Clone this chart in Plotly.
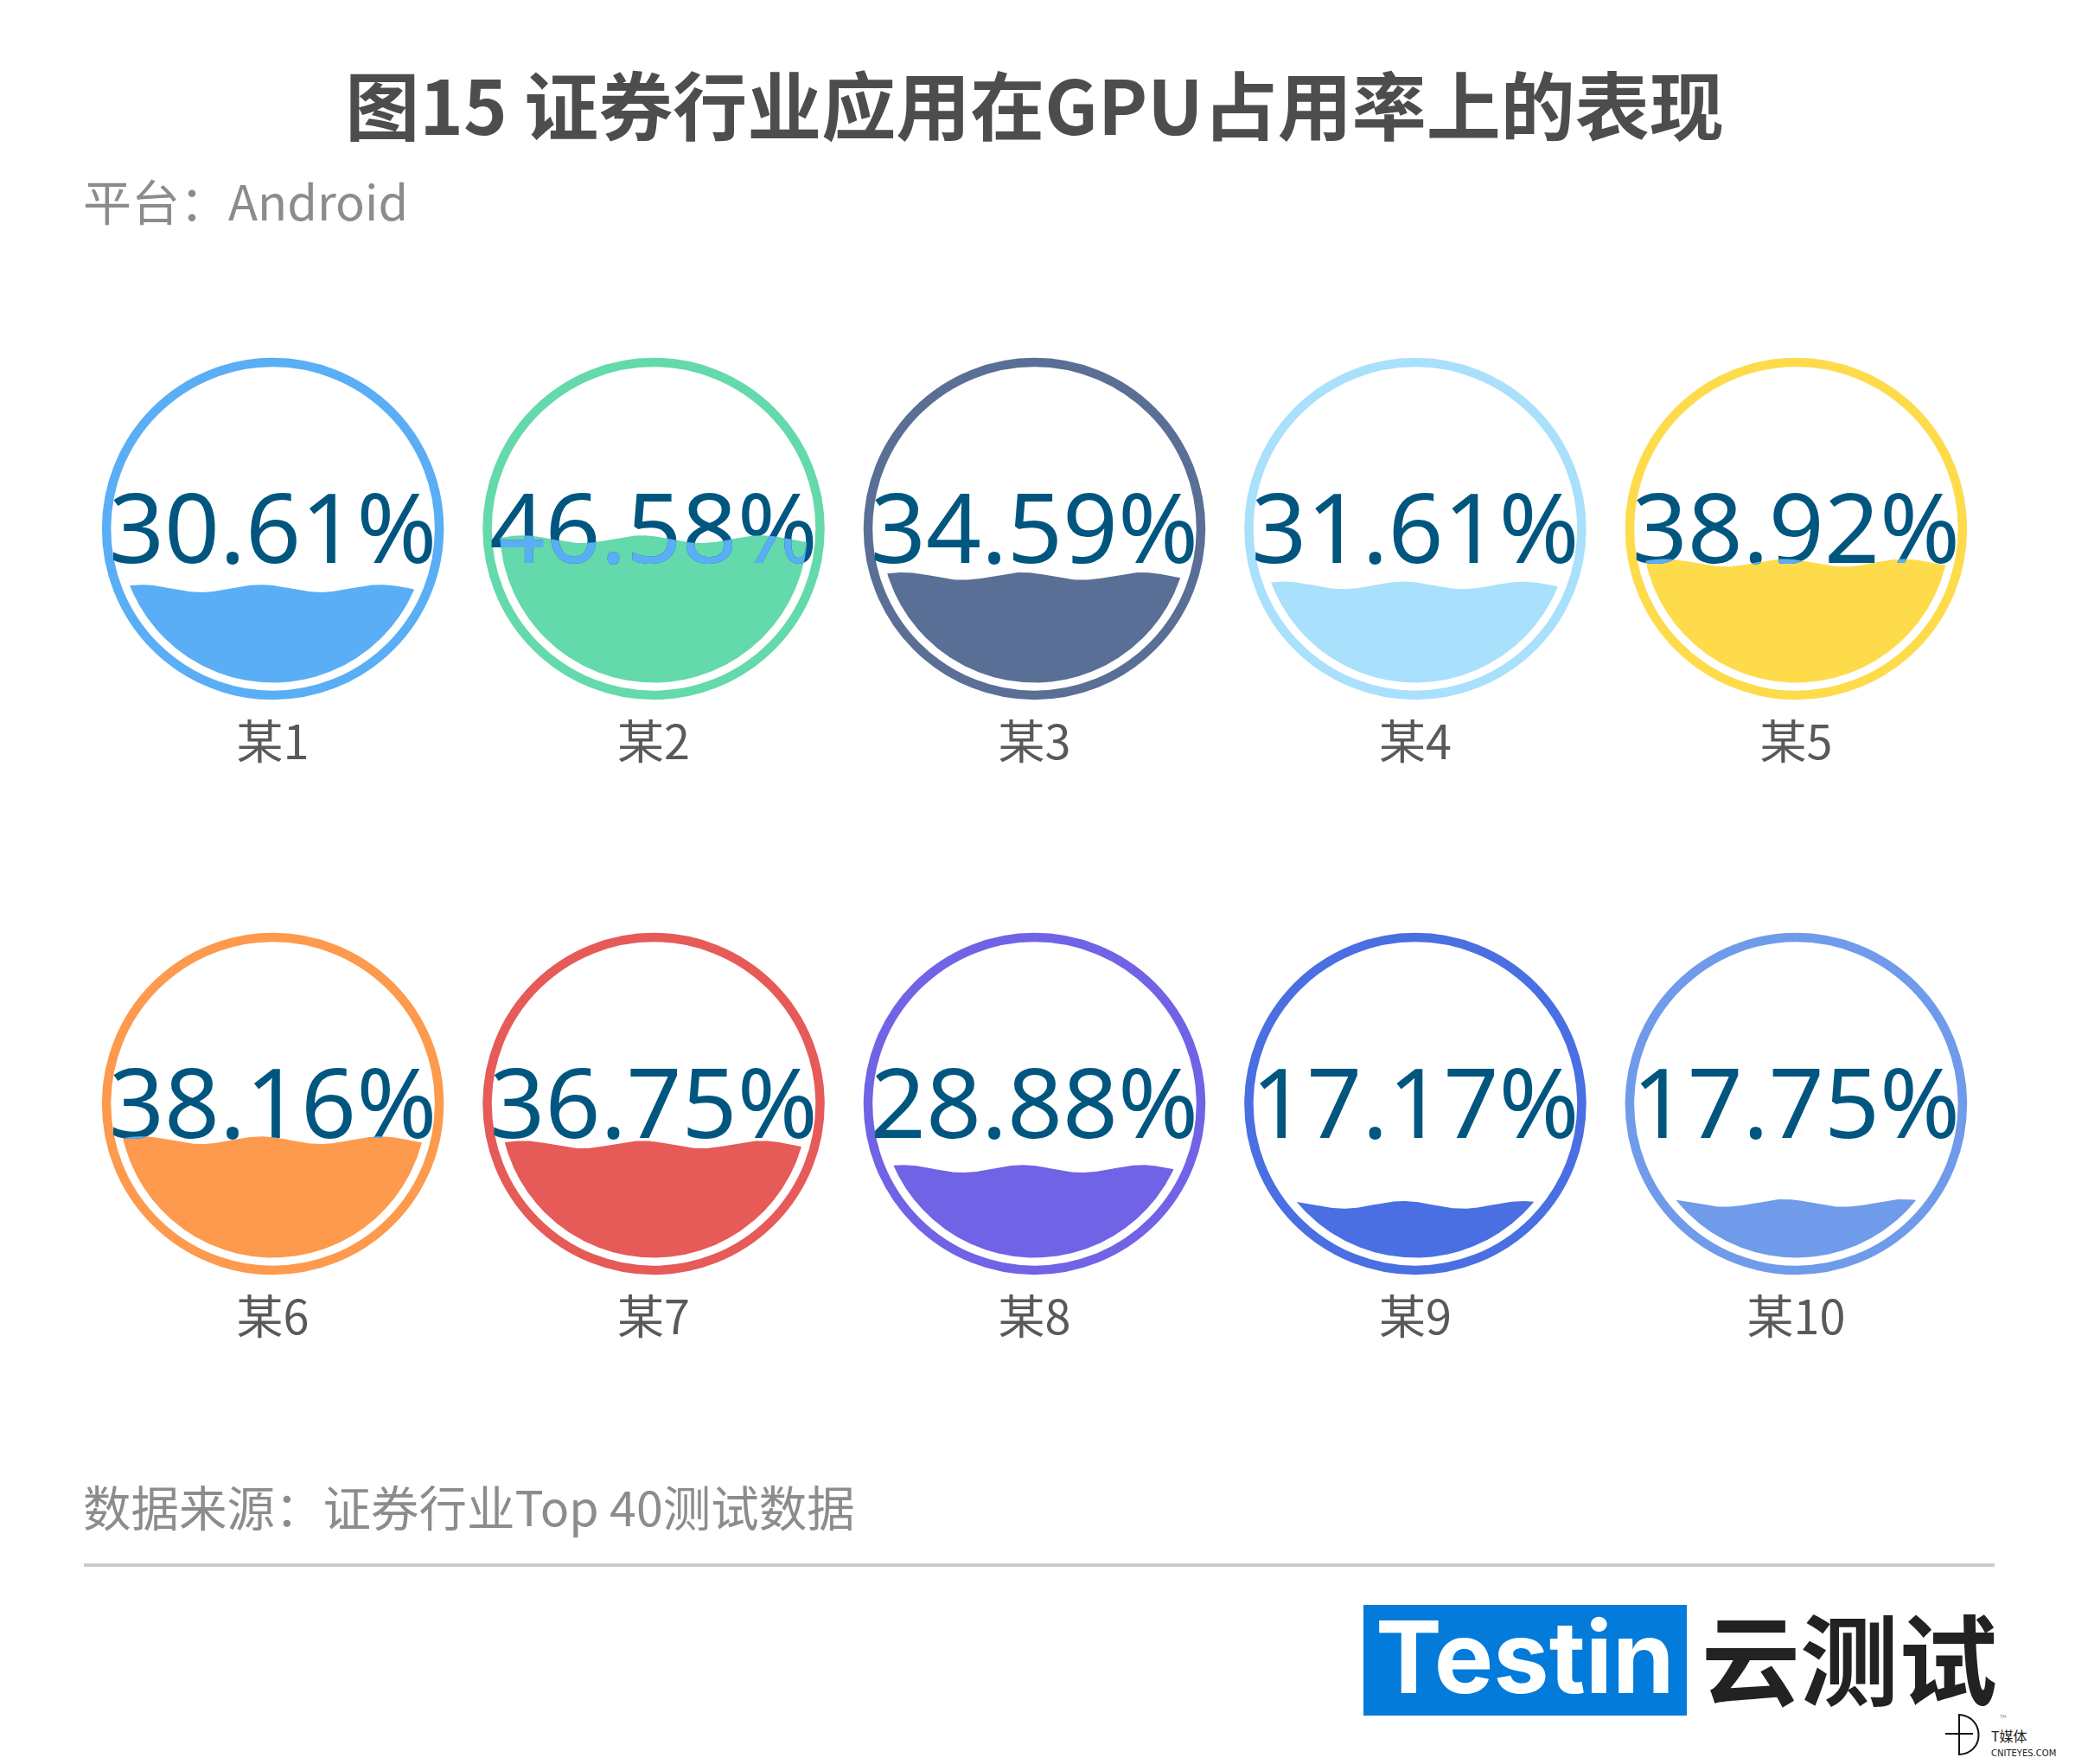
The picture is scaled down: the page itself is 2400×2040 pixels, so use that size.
import json
import numpy as np
import plotly.graph_objects as go

# ---- data ----
names = ["某1", "某2", "某3", "某4", "某5", "某6", "某7", "某8", "某9", "某10"]
values = [30.61, 46.58, 34.59, 31.61, 38.92, 38.16, 36.75, 28.88, 17.17, 17.75]
colors = ["#5AAEF5", "#64D9AB", "#5A6F95", "#A9E0FC", "#FEDB4B",
          "#FE9A4D", "#E65A58", "#7063E6", "#4A6FE3", "#6F9BEA"]
title_text = "图15 证券行业应用在GPU占用率上的表现"
subtitle_text = "平台：Android"
source_text = "数据来源：证券行业Top 40测试数据"

# ---- layout constants (pixels) ----
W, H = 2400, 2040
COL0, COLSTEP = 315.6, 440.45
ROWS = [611.5, 1276.5]
R_RING, RING_W, R_FILL = 192.5, 10.5, 178
WAVE_AMP, WAVE_PERIOD, WAVE_SHIFT = 4.4, 138.0, -14.0
TEXT_DARK, TEXT_LIGHT = "#00567F", "#5AAEF5"
VALUE_FONT = "Noto Sans"
CJK = "Noto Sans CJK SC"
VALUE_SIZE = 112
VALUE_DY, NAME_DY = 11.5, 252.5

centers = [(COL0 + COLSTEP * (i % 5), ROWS[i // 5]) for i in range(len(values))]


def water_polygon(cx, cy, v):
    level = cy + R_FILL - 2 * R_FILL * v / 100
    dx = np.linspace(-R_FILL, R_FILL, 721)
    surf = level - WAVE_AMP * np.cos(2 * np.pi * (dx - WAVE_SHIFT) / WAVE_PERIOD)
    arc = cy + np.sqrt(np.maximum(R_FILL ** 2 - dx ** 2, 0))
    top = cy - np.sqrt(np.maximum(R_FILL ** 2 - dx ** 2, 0))
    keep = (surf < arc) & (surf > top)
    xs = np.concatenate([cx + dx[keep], cx + dx[keep][::-1]])
    ys = np.concatenate([surf[keep], arc[keep][::-1]])
    return xs, ys


fig = go.Figure()
clips = []
# liquid fills
for (cx, cy), v, c, n in zip(centers, values, colors, names):
    xs, ys = water_polygon(cx, cy, v)
    clips.append("M" + "L".join(f"{a:.1f},{b:.1f}" for a, b in zip(xs, ys)) + "Z")
    fig.add_trace(go.Scatter(x=xs, y=ys, mode="lines", fill="toself", fillcolor=c,
                             line=dict(width=0, color=c), hoverinfo="skip", name=n,
                             showlegend=False))

labels = [f"{v:.2f}%" for v in values]
# percentage labels (dark, outside of the liquid)
fig.add_trace(go.Scatter(x=[c[0] for c in centers], y=[c[1] + VALUE_DY for c in centers], mode="text",
                         text=labels, textposition="middle center", cliponaxis=False,
                         textfont=dict(family=VALUE_FONT, size=VALUE_SIZE, color=TEXT_DARK),
                         hoverinfo="skip", showlegend=False))
n_fill = len(values)
# percentage labels (light, the part over the liquid: clipped below)
for (cx, cy), lab in zip(centers, labels):
    fig.add_trace(go.Scatter(x=[cx], y=[cy + VALUE_DY], mode="text", text=[lab],
                             textposition="middle center", cliponaxis=False,
                             textfont=dict(family=VALUE_FONT, size=VALUE_SIZE, color=TEXT_LIGHT),
                             hoverinfo="skip", showlegend=False))
# names below each gauge
fig.add_trace(go.Scatter(x=[c[0] for c in centers], y=[c[1] + NAME_DY for c in centers], mode="text",
                         text=names, textposition="middle center", cliponaxis=False,
                         textfont=dict(family=CJK, size=54, color="#595959"),
                         hoverinfo="skip", showlegend=False))

shapes = [dict(type="circle", xref="x", yref="y", x0=cx - R_RING, x1=cx + R_RING,
               y0=cy - R_RING, y1=cy + R_RING, line=dict(color=c, width=RING_W),
               fillcolor="rgba(0,0,0,0)", layer="below")
          for (cx, cy), c in zip(centers, colors)]
# footer rule, logo box, watermark mark
shapes += [
    dict(type="line", xref="x", yref="y", x0=97, x1=2307, y0=1810, y1=1810,
         line=dict(color="#CCCCCC", width=4)),
    dict(type="rect", xref="x", yref="y", x0=1577, x1=1951, y0=1856, y1=1984,
         fillcolor="#027BDA", line=dict(width=0)),
    dict(type="line", xref="x", yref="y", x0=2250, x1=2282, y0=2005, y1=2005,
         line=dict(color="#111111", width=2)),
    dict(type="path", xref="x", yref="y",
         path="M 2266 1983 C 2296 1985 2296 2028 2266 2029 Z",
         line=dict(color="#111111", width=2), fillcolor="rgba(0,0,0,0)"),
]


def note(x, y, text, size, color, family=CJK, anchor="left", weight=400):
    return dict(x=x, y=y, xref="x", yref="y", text=text, showarrow=False, xanchor=anchor,
                yanchor="middle", font=dict(family=family, size=size, color=color, weight=weight))


annotations = [
    note(94, 230, subtitle_text, 56, "#8C8C8C"),
    note(94, 1741, source_text, 55.5, "#8C8C8C"),
    note(1764, 1916, "Testin", 115, "#FFFFFF", family="Inter", anchor="center", weight=700),
    note(2139, 1913, "云测试", 114, "#222222", anchor="center", weight=700),
    note(2301, 2007, "T媒体", 16, "#222222"),
    note(2301, 2027, "CNITEYES.COM", 10, "#222222", family="DejaVu Sans"),
    note(2310, 1985, "TM", 5, "#888888", family="DejaVu Sans"),
]

fig.update_layout(
    width=W, height=H, margin=dict(l=0, r=0, t=0, b=0), showlegend=False,
    paper_bgcolor="#FFFFFF", plot_bgcolor="#FFFFFF", shapes=shapes, annotations=annotations,
    title=dict(text=title_text, x=1196.5 / W, xanchor="center", y=1 - 126 / H, yanchor="middle",
               font=dict(family=CJK, size=86, color="#4D4D4D", weight=700)),
    xaxis=dict(range=[0, W], visible=False, fixedrange=True),
    yaxis=dict(range=[H, 0], visible=False, fixedrange=True),
)

post = """
document.body.style.margin = '0';
var gd = document.getElementById('{plot_id}');
var clips = %s, first = %d;
var NS = 'http://www.w3.org/2000/svg';
var traces = gd.querySelectorAll('.scatterlayer .trace');
var svg = gd.querySelector('svg.main-svg');
var defs = svg.querySelector('defs');
clips.forEach(function (d, i) {
  var cp = document.createElementNS(NS, 'clipPath');
  cp.setAttribute('id', 'liquid' + i);
  var p = document.createElementNS(NS, 'path');
  p.setAttribute('d', d);
  cp.appendChild(p);
  defs.appendChild(cp);
  traces[first + i].querySelector('.text').setAttribute('clip-path', 'url(#liquid' + i + ')');
});
""" % (json.dumps(clips), n_fill + 1)

fig.write_html("out.html", post_script=post, config=dict(displayModeBar=False, responsive=False))
